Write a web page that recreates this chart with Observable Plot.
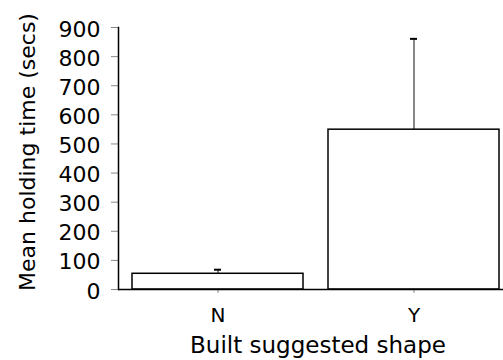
<!DOCTYPE html>
<html>
<head>
<meta charset="utf-8">
<script src="https://cdn.jsdelivr.net/npm/d3@7"></script>
<script src="https://cdn.jsdelivr.net/npm/@observablehq/plot@0.6"></script>
<style>
  html, body { margin: 0; padding: 0; background: #fff; }
  #chart { width: 503px; height: 360px; }
</style>
</head>
<body>
<div id="chart"></div>
<script>
const categories = ["N", "Y"];
const means = [54, 549];
const upper = [68, 861];
const yTicks = [0, 100, 200, 300, 400, 500, 600, 700, 800, 900];
const xTitle = "Built suggested shape";
const yTitle = "Mean holding time (secs)";

const data = categories.map((c, i) => ({cat: c, mean: means[i], up: upper[i]}));
const font = "DejaVu Sans, sans-serif";

const chart = Plot.plot({
  width: 503,
  height: 360,
  marginLeft: 118,
  marginRight: 0,
  marginTop: 27,
  marginBottom: 71,
  style: {fontFamily: font, background: "#fff", color: "#000"},
  x: {domain: categories, range: [118, 512], paddingInner: 0.13, paddingOuter: 0.066},
  y: {domain: [0, 900], range: [289, 27]},
  marks: [
    Plot.ruleX(data, {x: "cat", y1: "mean", y2: "up", stroke: "#888", strokeWidth: 2}),
    Plot.tickY(data, {x: "cat", y: "up", stroke: "#000", strokeWidth: 2, insetLeft: 82, insetRight: 82}),
    Plot.barY(data, {x: "cat", y: "mean", fill: "#fff", stroke: "#000", strokeWidth: 1.5}),
    Plot.axisY({ticks: yTicks, tickSize: 7, tickFormat: () => "", stroke: "#888", label: null}),
    Plot.axisY({ticks: yTicks, tickSize: 0, tickPadding: 18, fill: "#000", fontSize: 22, dy: 2, label: null}),
    Plot.axisX({tickSize: 4, tickPadding: 14, stroke: "#888", fill: "#000", fontSize: 20, label: null}),
    Plot.frame({anchor: "left", stroke: "#000", strokeWidth: 1.5}),
    Plot.ruleY([0], {stroke: "#000", strokeWidth: 1.5}),
    Plot.text([xTitle], {frameAnchor: "bottom", textAnchor: "middle", dy: 63, dx: 7, fontSize: 23, fill: "#000"}),
    Plot.text([yTitle], {frameAnchor: "left", textAnchor: "middle", rotate: -90, dx: -91, dy: -6.5, fontSize: 22, fill: "#000"})
  ]
});
document.getElementById("chart").appendChild(chart);
</script>
</body>
</html>
